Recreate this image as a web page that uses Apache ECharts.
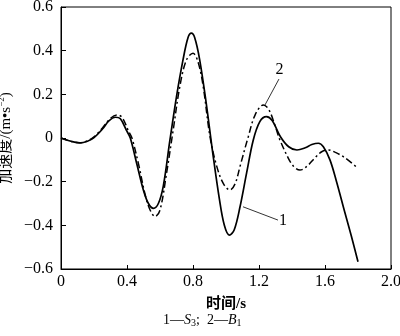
<!DOCTYPE html>
<html>
<head>
<meta charset="utf-8">
<script src="https://cdn.jsdelivr.net/npm/echarts@6/dist/echarts.min.js"></script>
<style>
  html, body { margin: 0; padding: 0; background: #fff; }
  #chart { width: 400px; height: 336px; }
</style>
</head>
<body>
<div id="chart"></div>
<script>
// 曲线1 S3 (实线)
const s3Time = [0, 0.06, 0.115, 0.16, 0.2, 0.25, 0.29, 0.33, 0.36, 0.4, 0.42, 0.46, 0.5, 0.53, 0.56, 0.59, 0.62, 0.66, 0.7, 0.74, 0.77, 0.79, 0.81, 0.84, 0.88, 0.92, 0.96, 0.99, 1.02, 1.05, 1.085, 1.125, 1.165, 1.205, 1.245, 1.28, 1.33, 1.38, 1.43, 1.48, 1.52, 1.56, 1.59, 1.63, 1.67, 1.72, 1.76, 1.8]
const s3Accel = [0, -0.015, -0.023, -0.015, 0.002, 0.04, 0.078, 0.095, 0.088, 0.03, 0.0, -0.12, -0.24, -0.3, -0.322, -0.3, -0.22, -0.01, 0.19, 0.36, 0.46, 0.48, 0.46, 0.36, 0.16, -0.07, -0.28, -0.4, -0.445, -0.42, -0.315, -0.16, -0.01, 0.075, 0.098, 0.08, 0.006, -0.04, -0.055, -0.045, -0.03, -0.024, -0.04, -0.1, -0.2, -0.34, -0.45, -0.567]

// 曲线2 B1 (点划线)
const b1Time = [0, 0.06, 0.115, 0.16, 0.2, 0.25, 0.3, 0.34, 0.37, 0.41, 0.43, 0.47, 0.51, 0.54, 0.57, 0.6, 0.64, 0.68, 0.72, 0.76, 0.8, 0.83, 0.862, 0.903, 0.944, 0.985, 1.024, 1.055, 1.085, 1.135, 1.176, 1.226, 1.26, 1.3, 1.327, 1.378, 1.41, 1.448, 1.49, 1.54, 1.58, 1.62, 1.66, 1.72, 1.8]
const b1Accel = [0, -0.015, -0.022, -0.013, 0.005, 0.045, 0.09, 0.105, 0.095, 0.03, 0.0, -0.12, -0.26, -0.33, -0.36, -0.33, -0.16, 0.037, 0.235, 0.357, 0.388, 0.35, 0.235, 0.006, -0.13, -0.21, -0.238, -0.21, -0.13, 0.006, 0.105, 0.151, 0.13, 0.05, -0.009, -0.093, -0.13, -0.147, -0.13, -0.09, -0.063, -0.055, -0.065, -0.09, -0.139]

// 坐标轴刻度
const xTicks = [0, 0.4, 0.8, 1.2, 1.6, 2.0]
const yTicks = [-0.6, -0.4, -0.2, 0, 0.2, 0.4, 0.6]

// 引线标注 [起点, 终点]
const label1Line = [[1.103, -0.315], [1.315, -0.376]]
const label2Line = [[1.236, 0.151], [1.321, 0.27]]

const serif = "'Times New Roman', 'Liberation Serif', 'Noto Sans CJK SC', serif"

function zip(xs, ys) {
    let out = new Array
    for (let i = 0; i < xs.length; i++) {
        out.push([xs[i], ys[i]])
    }
    return out
}

function fmtNum(v) {
    if (v === 0) return '0'
    let s = Math.abs(v).toFixed(1)
    return (v < 0 ? '\u2212' : '') + s
}

const chart = echarts.init(document.getElementById('chart'))

const option = {
    animation: false,
    backgroundColor: '#fff',
    grid: {
        left: 61, right: 9, top: 7, bottom: 67,
        containLabel: false,
        outerBoundsMode: 'none',
        show: true,
        borderColor: '#000',
        borderWidth: 1
    },
    xAxis: {
        type: 'value',
        min: xTicks[0],
        max: xTicks[xTicks.length - 1],
        interval: 0.4,
        name: '时间/s',
        nameLocation: 'middle',
        nameGap: 28,
        nameTextStyle: { fontFamily: serif, fontSize: 15, color: '#000', fontWeight: 'bold' },
        axisLine: { onZero: false, lineStyle: { color: '#000', width: 1 } },
        axisTick: { inside: true, length: 4, lineStyle: { color: '#000' } },
        axisLabel: {
            color: '#000', fontFamily: serif, fontSize: 16, margin: 5,
            formatter: v => (v === 2 ? '2.0' : fmtNum(v))
        },
        splitLine: { show: false }
    },
    yAxis: {
        type: 'value',
        min: yTicks[0],
        max: yTicks[yTicks.length - 1],
        interval: 0.2,
        name: '{t|加速度/(m\u2022s}{sup|\u22122}{t|)}',
        nameLocation: 'middle',
        nameGap: 50,
        nameRotate: 90,
        nameTextStyle: {
            align: 'center',
            verticalAlign: 'middle',
            rich: {
                t: { fontFamily: serif, fontSize: 15, lineHeight: 16, color: '#000' },
                sup: { fontFamily: serif, fontSize: 9, lineHeight: 16, color: '#000', verticalAlign: 'top' }
            }
        },
        axisLine: { lineStyle: { color: '#000', width: 1 } },
        axisTick: { inside: true, length: 5, lineStyle: { color: '#000' } },
        axisLabel: {
            color: '#000', fontFamily: serif, fontSize: 16, margin: 8,
            formatter: v => fmtNum(Math.round(v * 10) / 10)
        },
        splitLine: { show: false }
    },
    series: [
        {
            name: 'S3',
            type: 'line',
            data: zip(s3Time, s3Accel),
            smooth: 0.35,
            showSymbol: false,
            lineStyle: { color: '#000', width: 1.7 },
            markLine: {
                silent: true,
                symbol: 'none',
                lineStyle: { color: '#000', width: 0.8, type: 'solid' },
                label: { show: true, position: 'end', formatter: '1', color: '#000', fontFamily: serif, fontSize: 16, distance: 1 },
                data: [[{ coord: label1Line[0] }, { coord: label1Line[1] }]]
            }
        },
        {
            name: 'B1',
            type: 'line',
            data: zip(b1Time, b1Accel),
            smooth: 0.35,
            showSymbol: false,
            lineStyle: { color: '#000', width: 1.5, type: [7, 3, 2, 3] },
            markLine: {
                silent: true,
                symbol: 'none',
                lineStyle: { color: '#000', width: 0.8, type: 'solid' },
                label: { show: true, position: 'end', formatter: '2', color: '#000', fontFamily: serif, fontSize: 16, distance: 1 },
                data: [[{ coord: label2Line[0] }, { coord: label2Line[1] }]]
            }
        }
    ],
    graphic: [
        {
            type: 'text',
            left: 163,
            top: 313,
            style: {
                text: '{n|1—}{i|S}{sub|3}{n|;  2—}{i|B}{sub|1}',
                rich: {
                    n: { fontFamily: serif, fontSize: 14, fill: '#000' },
                    i: { fontFamily: serif, fontSize: 14, fontStyle: 'italic', fill: '#000' },
                    sub: { fontFamily: serif, fontSize: 10, fill: '#000', padding: [7, 0, 0, 0] }
                }
            }
        }
    ]
}

chart.setOption(option)
</script>
</body>
</html>
